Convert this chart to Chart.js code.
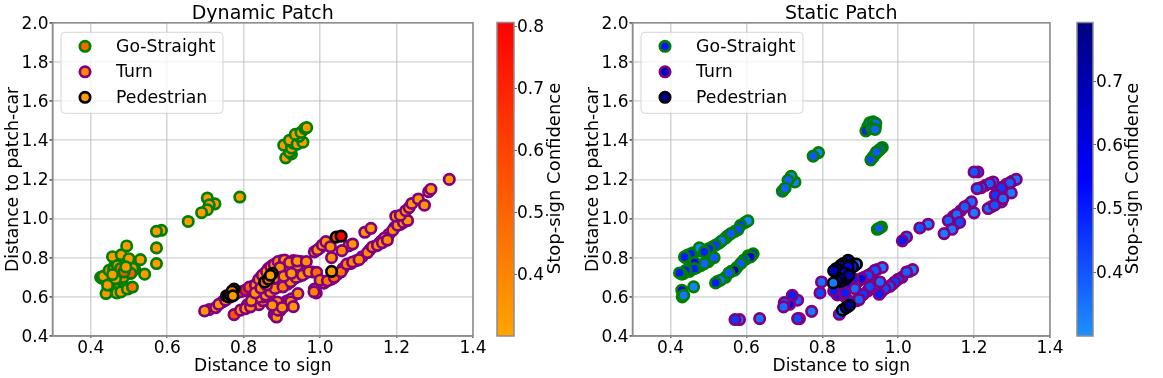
<!DOCTYPE html>
<html><head><meta charset="utf-8">
<script src="https://cdn.jsdelivr.net/npm/chart.js@4/dist/chart.umd.js"></script>
<style>
html,body{margin:0;padding:0;background:#fff;width:1163px;height:378px;overflow:hidden}
canvas{position:absolute;top:0;filter:blur(.35px)}
</style></head><body>
<canvas id="c1" width="490" height="378" style="left:0"></canvas>
<canvas id="b1" width="90" height="378" style="left:490px"></canvas>
<canvas id="c2" width="490" height="378" style="left:580px"></canvas>
<canvas id="b2" width="93" height="378" style="left:1070px"></canvas>
<script>
// [distance to sign, distance to patch-car, stop-sign confidence]
const dynamicGoStraight = [
[.44,.71,.4],[.45,.72,.45],[.455,.73,.5],[.46,.75,.4],[.47,.72,.33],[.48,.735,.5],[.495,.72,.55],[.515,.74,.33],[.505,.78,.33],[.49,.79,.33],[.475,.79,.33],[.46,.67,.33],[.45,.65,.33],[.47,.64,.33],[.485,.64,.33],[.5,.645,.33],[.455,.63,.33],[.47,.7,.33],[.485,.7,.4],[.5,.76,.33],[.465,.775,.33],[.44,.69,.33],
[.91,1.31,.33],[.925,1.33,.33],[.92,1.34,.33],[.905,1.375,.33],[.925,1.36,.33],[.93,1.385,.33],[.92,1.40,.33],[.94,1.38,.33],[.955,1.39,.33],[.945,1.42,.33],[.935,1.43,.33],[.95,1.44,.33],[.96,1.46,.33],[.965,1.465,.33],
[.79,1.11,.33],[.705,1.105,.33],[.725,1.075,.33],[.71,1.07,.33],[.705,1.045,.33],[.69,1.03,.33],[.655,.985,.33],[.585,.94,.33],[.572,.935,.33],[.572,.85,.33],[.572,.77,.33],
[.426,.70,.33],[.43,.695,.33],[.433,.705,.33],[.457,.805,.33],[.48,.815,.33],[.494,.86,.33],[.53,.79,.33],[.541,.716,.33],[.444,.63,.5],[.44,.617,.35],[.444,.66,.33],[.448,.735,.4],[.46,.74,.45],[.47,.76,.33],[.478,.745,.5],[.5,.795,.33],[.51,.745,.33],[.505,.72,.52],[.487,.727,.55],[.492,.753,.33],[.465,.693,.33],[.457,.714,.33],[.468,.62,.33],[.479,.625,.33],[.496,.64,.33],[.509,.65,.45]
];
const dynamicTurn = [
[.71,.535,.34],[.745,.575,.35],[.765,.6,.38],[.78,.62,.45],[.80,.63,.6],[.825,.655,.4],[.835,.67,.36],[.845,.7,.36],[.855,.72,.35],[.865,.745,.35],[.875,.76,.36],[.885,.77,.35],[.9,.785,.35],[.91,.77,.35],[.93,.785,.35],[.95,.78,.35],
[.81,.56,.34],[.825,.57,.34],[.83,.585,.35],[.845,.605,.35],[.865,.62,.36],[.89,.65,.38],[.895,.66,.38],[.915,.665,.36],[.93,.69,.35],[.945,.705,.35],[.96,.72,.35],[.98,.727,.4],
[.88,.51,.34],[.885,.52,.34],[.895,.53,.35],[.9,.56,.35],[.905,.55,.35],[.91,.575,.36],[.88,.555,.35],[.87,.57,.35],[.915,.58,.35],[.925,.59,.36],[.84,.56,.35],[.85,.58,.35],[.85,.6,.36],
[.985,.64,.36],[.99,.62,.38],[1.005,.68,.42],[1.01,.67,.45],[1.03,.69,.48],[1.045,.715,.45],[1.06,.745,.42],[1.08,.77,.38],[1.095,.785,.36],[1.11,.805,.36],[1.13,.84,.36],[1.145,.86,.36],[1.155,.875,.36],[1.16,.885,.36],[1.18,.92,.35],[1.195,.955,.35],[1.21,.97,.35],
[.985,.83,.34],[1.0,.85,.35],[1.075,.86,.35],[.9,.72,.35],[.91,.73,.35],[.92,.74,.35],[.93,.755,.35],[.94,.76,.34],[.87,.67,.38],[.885,.68,.36],[.895,.70,.36],
[.698,.528,.34],[.727,.545,.36],[.735,.562,.34],[.753,.583,.35],[.775,.61,.42],[.79,.625,.6],[.805,.634,.72],[.815,.65,.5],[.831,.66,.36],[.84,.69,.34],[.849,.711,.36],[.86,.73,.34],[.871,.754,.36],[.88,.765,.34],[.89,.78,.36],[.907,.788,.34],[.92,.775,.36],[.94,.783,.34],[.964,.78,.36],[.895,.75,.36],
[.775,.509,.55],[.792,.532,.34],[.805,.54,.35],[.818,.549,.36],[.838,.597,.35],[.858,.609,.34],[.87,.625,.36],[.882,.643,.38],[.903,.651,.42],[.923,.677,.36],[.937,.699,.34],[.954,.711,.36],[.971,.728,.34],[.991,.725,.48],[.82,.58,.33],[.83,.62,.35],[.845,.645,.38],[.86,.66,.4],[.88,.695,.36],[.905,.705,.36],[.925,.72,.34],
[.886,.497,.34],[.89,.532,.36],[.888,.574,.38],[.875,.557,.34],[.914,.566,.34],[.923,.574,.36],[.901,.545,.35],[.93,.55,.34],[.942,.617,.36],[.984,.626,.4],[1.0,.685,.38],[1.019,.682,.45],[1.037,.70,.5],[1.055,.728,.45],[1.07,.767,.4],[1.085,.778,.38],[1.102,.79,.36],[1.124,.826,.38],[1.137,.855,.36],[1.15,.863,.37],[1.168,.90,.35],[1.163,.877,.36],[1.176,.89,.36],[1.19,.94,.36],[1.203,.966,.35],[1.218,.98,.35],[1.229,.99,.35],
[.993,.84,.34],[1.006,.865,.36],[1.015,.882,.35],[1.027,.856,.36],[1.03,.80,.35],[1.057,.836,.38],[1.085,.87,.35],[1.117,.93,.34],[1.133,.95,.34],
[1.198,1.012,.34],[1.21,1.017,.34],[1.224,1.04,.35],[1.233,1.056,.35],[1.24,1.077,.34],[1.257,1.10,.34],[1.273,1.068,.34],[1.284,1.137,.34],[1.29,1.15,.33],[1.338,1.2,.33]
];
const dynamicPedestrian = [
[.755,.605,.36],[.76,.60,.36],[.765,.61,.4],[.775,.64,.5],[.77,.63,.42],[.772,.605,.34],[.855,.675,.5],[.865,.69,.42],[.875,.72,.36],[.87,.71,.34],[1.03,.73,.34],[1.042,.905,.62],[1.055,.91,.8]
];
const staticGoStraight = [
[.597,.98,.4],[.57,.935,.4],[.55,.91,.45],[.545,.9,.4],[.528,.875,.42],[.51,.855,.5],[.495,.84,.5],[.48,.835,.5],[.46,.825,.55],[.44,.8,.6],[.45,.79,.5],[.47,.75,.5],[.45,.73,.55],[.435,.72,.6],[.48,.76,.42],[.5,.78,.4],[.605,.81,.5],[.6,.795,.45],[.575,.75,.5],[.56,.73,.5],[.545,.7,.4],[.525,.68,.45],[.94,1.47,.4],[.92,1.47,.4],[.95,1.35,.45],[.94,1.33,.45],
[.604,.988,.32],[.585,.966,.45],[.578,.944,.42],[.559,.923,.4],[.535,.886,.36],[.519,.864,.45],[.502,.847,.5],[.476,.85,.32],[.489,.83,.5],[.445,.813,.68],[.454,.82,.5],[.437,.804,.5],[.515,.80,.4],[.489,.77,.38],[.464,.775,.55],[.463,.744,.5],[.441,.736,.5],[.43,.716,.58],[.424,.722,.5],
[.618,.82,.5],[.611,.804,.6],[.593,.787,.45],[.585,.77,.4],[.569,.736,.65],[.554,.722,.4],[.532,.685,.36],[.519,.671,.5],[.461,.651,.33],[.43,.634,.58],[.431,.60,.35],[.435,.608,.35],
[.925,1.489,.36],[.934,1.494,.36],[.941,1.486,.38],[.915,1.448,.5],[.93,1.46,.38],[.939,1.455,.38],[.958,1.363,.55],[.952,1.353,.4],[.934,1.315,.5],[.928,1.30,.42],[.943,1.34,.4],[.79,1.337,.33],[.776,1.319,.4],[.956,.957,.33],[.945,.945,.4],[.95,.95,.4],[.728,1.187,.33],[.718,1.216,.34],[.71,1.196,.38],[.695,1.14,.4],[.702,1.155,.38]
];
const staticTurn = [
[1.3,1.19,.38],[1.285,1.175,.4],[1.26,1.16,.42],[1.23,1.17,.4],[1.265,1.11,.42],[1.245,1.06,.38],[1.185,1.07,.38],[1.165,1.04,.38],[1.145,1.01,.38],[1.15,.97,.4],[1.03,.73,.36],[1.01,.7,.4],[1.0,.69,.42],[.985,.665,.42],[.97,.65,.42],[.955,.625,.45],[.93,.72,.45],[.91,.7,.5],[.895,.68,.55],[.875,.65,.5],[.86,.64,.55],[.84,.61,.55],[.92,.63,.42],[.9,.6,.4],[.89,.58,.38],[.945,.74,.38],[.93,.66,.4],[.86,.6,.45],[.87,.58,.45],
[1.21,1.238,.4],[1.2,1.238,.4],[1.311,1.2,.35],[1.294,1.182,.38],[1.298,1.131,.34],[1.272,1.158,.45],[1.25,1.187,.36],[1.241,1.179,.38],[1.219,1.158,.4],[1.208,1.153,.38],[1.272,1.085,.34],[1.256,1.119,.45],[1.237,1.051,.36],[1.254,1.068,.4],[1.276,1.102,.35],[1.193,1.085,.36],[1.2,1.029,.34],[1.175,1.06,.38],[1.154,1.022,.36],[1.162,.98,.42],[1.132,.99,.38],[1.142,.945,.34],[1.121,.923,.34],[1.079,.971,.33],[1.057,.952,.4],[1.022,.906,.38],[1.011,.886,.5],
[1.038,.739,.34],[1.022,.727,.38],[.991,.676,.45],[.978,.654,.4],[.965,.642,.42],[.95,.613,.5],[.958,.75,.34],[.939,.736,.4],[.941,.664,.34],[.925,.651,.42],[.952,.676,.36],[.921,.71,.42],[.903,.693,.6],[.882,.693,.5],[.868,.668,.55],[.886,.642,.36],[.851,.634,.6],[.908,.613,.45],[.897,.586,.38],[.845,.511,.4],[.798,.676,.36],[.794,.62,.42],[.83,.63,.5],[.86,.62,.5],[.772,.526,.34],[.74,.489,.36],[.735,.489,.42],[.735,.583,.38],[.721,.608,.5],[.714,.562,.58],[.70,.571,.4],[.698,.549,.36],[.635,.489,.35],[.582,.484,.35],[.57,.484,.45]
];
const staticPedestrian = [
[.86,.77,.65],[.875,.775,.7],[.85,.75,.65],[.86,.745,.6],[.845,.725,.65],[.855,.71,.6],[.84,.7,.6],[.835,.735,.7],[.86,.69,.65],[.85,.68,.55],[.87,.74,.65],[.885,.76,.6],[.858,.538,.5],[.867,.55,.6],
[.868,.787,.72],[.855,.77,.6],[.848,.76,.7],[.837,.745,.75],[.83,.733,.68],[.872,.76,.7],[.89,.767,.34],[.88,.753,.5],[.868,.752,.55],[.859,.722,.55],[.87,.71,.7],[.846,.693,.7],[.838,.68,.6],[.829,.671,.34],[.853,.532,.36],[.863,.545,.7],[.872,.557,.75]
];
const xTicks = [.4,.6,.8,1.0,1.2,1.4];
const yTicks = [.4,.6,.8,1.0,1.2,1.4,1.6,1.8,2.0];
const dynamicCbarTicks = [.4,.5,.6,.7,.8];
const staticCbarTicks = [.4,.5,.6,.7];
const dynamicRange = [.30,.806];
const staticRange = [.30,.792];
const legendLabels = ['Go-Straight','Turn','Pedestrian'];
const edgeColors = ['#008000','#800080','#000000'];
const dynamicLegendC = [.5,.39,.33];
const staticLegendC = [.52,.68,.76];
const dynamicStops = [[0,[255,165,0]],[1,[255,0,0]]];
const staticStops = [[0,[30,144,255]],[.5,[0,0,255]],[1,[0,0,128]]];

const FONT='"DejaVu Sans"';
function mapColor(stops,range,v){
  const t=Math.max(0,Math.min(1,(v-range[0])/(range[1]-range[0])));
  for(let i=1;i<stops.length;i++){
    if(t<=stops[i][0]){
      const a=stops[i-1],b=stops[i],f=(t-a[0])/(b[0]-a[0]);
      return 'rgb('+a[1].map((c,k)=>Math.round(c+(b[1][k]-c)*f)).join(',')+')';
    }
  }
  return 'rgb('+stops[stops.length-1][1].join(',')+')';
}
const R=5.2,BW=2.7;
function ds(label,rows,edge,stops,range,order){
  return {label,order,data:rows.map(r=>({x:r[0],y:r[1]})),
    pointBackgroundColor:rows.map(r=>mapColor(stops,range,r[2])),
    pointBorderColor:edge,pointBorderWidth:BW,pointRadius:R,pointHoverRadius:R,showLine:false};
}
const framePlugin={id:'frame',afterDatasetsDraw(ch){
  const a=ch.chartArea,c=ch.ctx;c.save();c.strokeStyle='#8c8c8c';c.lineWidth=1.5;
  c.strokeRect(a.left,a.top,a.right-a.left,a.bottom-a.top);c.restore();
}};
function legendPlugin(stops,range,vals){return {id:'legendBox',afterDraw(ch){
  const c=ch.ctx,a=ch.chartArea,x0=a.left+8.5,y0=a.top+9.5,w=162,h=81;
  c.save();
  c.beginPath();c.roundRect(x0,y0,w,h,4);c.fillStyle='rgba(255,255,255,0.8)';c.fill();
  c.strokeStyle='rgba(204,204,204,0.8)';c.lineWidth=1;c.stroke();
  c.font='17.3px '+FONT;c.textBaseline='middle';c.textAlign='left';
  legendLabels.forEach((t,i)=>{
    const y=y0+14+i*25.5;
    c.beginPath();c.arc(x0+24,y,R,0,Math.PI*2);c.fillStyle=mapColor(stops,range,vals[i]);c.fill();
    c.lineWidth=BW;c.strokeStyle=edgeColors[i];c.stroke();
    c.fillStyle='#000';c.fillText(t,x0+55,y+1);
  });
  c.restore();
}}}
function scatter(id,title,sets,stops,range,vals,rightPad){
  new Chart(document.getElementById(id),{type:'scatter',
    data:{datasets:sets},
    plugins:[framePlugin,legendPlugin(stops,range,vals)],
    options:{responsive:false,animation:false,devicePixelRatio:1,
      layout:{padding:{right:rightPad,left:0,top:0,bottom:0}},
      plugins:{legend:{display:false},tooltip:{enabled:false},
        title:{display:true,text:title,fullSize:false,color:'#000',font:{family:FONT,size:19,weight:'normal',lineHeight:1.2},padding:{top:2.5,bottom:-2.5}}},
      scales:{
        x:{type:'linear',min:.3,max:1.4,
          afterBuildTicks:s=>{s.ticks=xTicks.map(v=>({value:v}))},
          afterFit:s=>{s.height=42},
          grid:{color:'rgba(176,176,176,0.55)',lineWidth:1.5,tickLength:2,tickColor:'#666'},
          border:{color:'#8c8c8c',width:1.5},
          ticks:{color:'#000',font:{family:FONT,size:17},padding:0,maxRotation:0,autoSkip:false,callback:v=>v.toFixed(1)},
          title:{display:true,text:'Distance to sign',color:'#000',font:{family:FONT,size:17,lineHeight:1.1},padding:{top:-2,bottom:2}}},
        y:{type:'linear',min:.4,max:2.0,
          afterBuildTicks:s=>{s.ticks=yTicks.map(v=>({value:v}))},
          afterFit:s=>{s.width=52.5},
          grid:{color:'rgba(190,190,190,0.5)',lineWidth:1.8,tickLength:3,tickColor:'#666'},
          border:{color:'#8c8c8c',width:1.5},
          ticks:{color:'#000',font:{family:FONT,size:17},padding:1,labelOffset:1.5,autoSkip:false,callback:v=>v.toFixed(1)},
          title:{display:true,text:'Distance to patch-car',color:'#000',font:{family:FONT,size:17.2,lineHeight:1.1},padding:{top:4,bottom:0}}}
      }}});
}
scatter('c1','Dynamic Patch',[
  ds('Go-Straight',dynamicGoStraight,edgeColors[0],dynamicStops,dynamicRange,3),
  ds('Turn',dynamicTurn,edgeColors[1],dynamicStops,dynamicRange,2),
  ds('Pedestrian',dynamicPedestrian,edgeColors[2],dynamicStops,dynamicRange,1)],dynamicStops,dynamicRange,dynamicLegendC,17);
scatter('c2','Static Patch',[
  ds('Go-Straight',staticGoStraight,edgeColors[0],staticStops,staticRange,3),
  ds('Turn',staticTurn,edgeColors[1],staticStops,staticRange,2),
  ds('Pedestrian',staticPedestrian,edgeColors[2],staticStops,staticRange,1)],staticStops,staticRange,staticLegendC,20);

function colorbar(id,range,stops,ticks,barLeft,barWidth,labelX){
  const cvs=document.getElementById(id);
  new Chart(cvs,{type:'bar',
    data:{labels:['Stop-sign Confidence'],datasets:[{data:[[range[0],range[1]]],barPercentage:1,categoryPercentage:1,borderWidth:0,
      backgroundColor(ctx){
        const a=ctx.chart.chartArea;if(!a)return '#888';
        const g=ctx.chart.ctx.createLinearGradient(0,a.bottom,0,a.top);
        stops.forEach(s=>g.addColorStop(s[0],'rgb('+s[1].join(',')+')'));
        return g;
      }}]},
    plugins:[framePlugin,{id:'cbLabel',afterDraw(ch){
      const c=ch.ctx;c.save();c.translate(labelX,178.5);c.rotate(-Math.PI/2);
      c.font='18px '+FONT;c.textAlign='center';c.textBaseline='middle';c.fillStyle='#000';
      c.fillText('Stop-sign Confidence',0,0);c.restore();
    }}],
    options:{responsive:false,animation:false,devicePixelRatio:1,
      layout:{padding:{left:barLeft,right:0,top:22.5,bottom:42}},
      plugins:{legend:{display:false},tooltip:{enabled:false},title:{display:false}},
      scales:{
        x:{display:false},
        y:{position:'right',min:range[0],max:range[1],
          afterBuildTicks:s=>{s.ticks=ticks.map(v=>({value:v}))},
          afterFit:s=>{s.width=cvs.width-barLeft-barWidth},
          grid:{drawOnChartArea:false,tickLength:3,tickColor:'#666',lineWidth:1},
          border:{display:false},
          ticks:{color:'#000',font:{family:FONT,size:17},padding:0,labelOffset:1.5,autoSkip:false,callback:v=>v.toFixed(1)}}
      }}});
}
colorbar('b1',dynamicRange,dynamicStops,dynamicCbarTicks,7,17,65);
colorbar('b2',staticRange,staticStops,staticCbarTicks,7,16,63);
</script></body></html>
